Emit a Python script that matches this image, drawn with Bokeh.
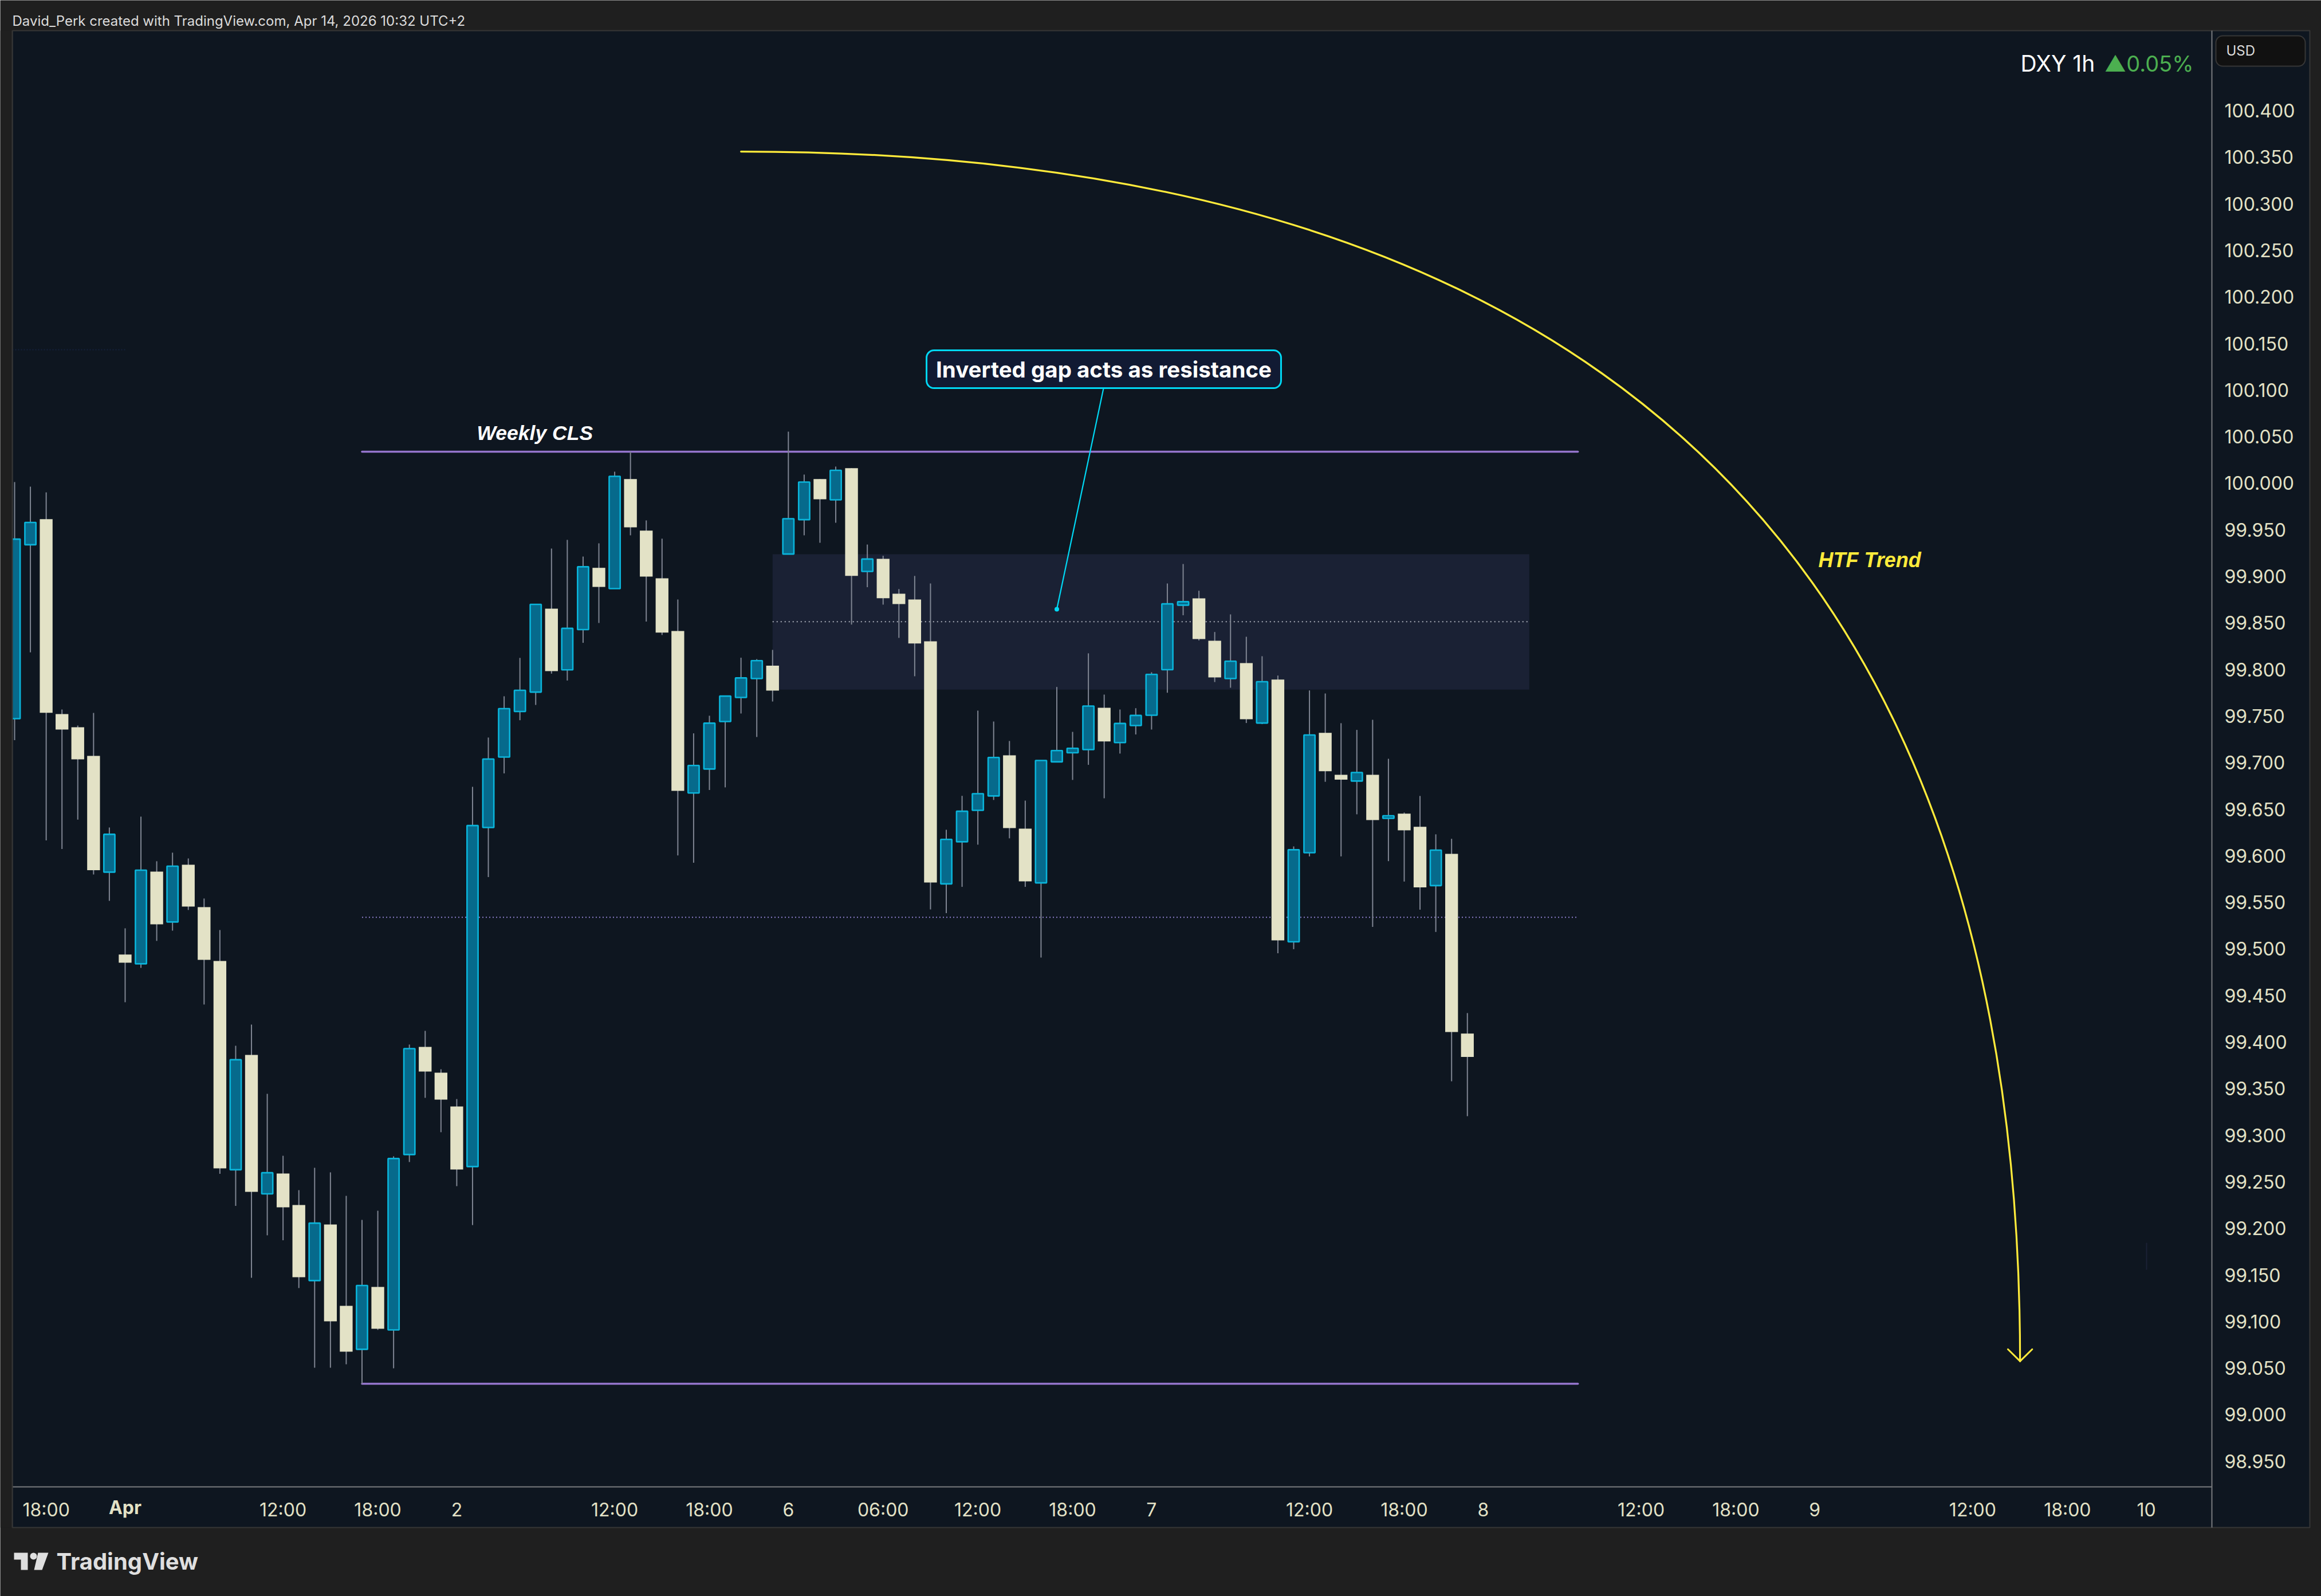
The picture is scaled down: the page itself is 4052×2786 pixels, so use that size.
from bokeh.plotting import figure
from bokeh.models import (ColumnDataSource, Range1d, FixedTicker, NumeralTickFormatter,
                          BoxAnnotation, Label, PolyAnnotation)
from bokeh.embed import file_html
from bokeh.resources import INLINE

# ---- candle data (prices), bar index = position in the list
highs = [100.0012,99.9963,99.9901,99.7570,99.7398,99.7533,99.6303,99.5221,99.6420,99.5941,99.6033,99.5971,99.5541,99.5203,99.3960,99.4188,
99.3444,99.2779,99.2410,99.2650,99.2601,99.2349,99.2091,99.2189,99.2773,99.3973,99.4120,99.3708,99.3388,99.6740,99.7269,99.7712,
99.8124,99.8702,99.9298,99.9391,99.9212,99.9354,100.0123,100.0338,99.9600,99.9404,99.8751,99.7314,99.7503,99.7714,99.8126,99.8111,
99.8210,100.0553,100.0092,100.0044,100.0178,100.0161,99.9341,99.9220,99.8863,99.9004,99.8923,99.6279,99.6643,99.7558,99.7441,99.7232,
99.6592,99.7023,99.7812,99.7330,99.8173,99.7730,99.7570,99.7584,99.7970,99.8923,99.9132,99.8845,99.8402,99.8591,99.8351,99.8142,
99.7935,99.6100,99.7774,99.7742,99.7423,99.7351,99.7460,99.7041,99.6464,99.6642,99.6230,99.6182,99.4311]
lows = [99.7241,99.8183,99.6165,99.6072,99.6387,99.5799,99.5516,99.4428,99.4797,99.5086,99.5196,99.5418,99.4403,99.2586,99.2241,99.1469,
99.1925,99.1872,99.1359,99.0504,99.0504,99.0541,99.0332,99.0910,99.0498,99.2712,99.3401,99.3032,99.2453,99.2035,99.5771,99.6884,
99.7455,99.7619,99.7955,99.7881,99.8286,99.8499,99.8868,99.9440,99.8514,99.8370,99.6004,99.5925,99.6706,99.6734,99.7527,99.7275,
99.7656,99.9239,99.9440,99.9360,99.9575,99.8482,99.8883,99.8696,99.8339,99.7927,99.5424,99.5384,99.5666,99.6119,99.6599,99.6187,
99.5666,99.4907,99.7008,99.6814,99.6976,99.6617,99.7097,99.7302,99.7355,99.7750,99.8582,99.8311,99.7865,99.7804,99.7425,99.7413,
99.4954,99.4997,99.5993,99.6794,99.5993,99.6445,99.5236,99.5942,99.5723,99.5421,99.5182,99.3579,99.3204]
body_tops = [99.9399,99.9578,99.9613,99.7521,99.7380,99.7072,99.6230,99.4939,99.5845,99.5830,99.5888,99.5904,99.5449,99.4870,99.3810,99.3862,
99.2597,99.2589,99.2251,99.2056,99.2041,99.1168,99.1386,99.1371,99.2749,99.3929,99.3948,99.3671,99.3308,99.6324,99.7038,99.7579,
99.7776,99.8699,99.8653,99.8441,99.9102,99.9091,100.0073,100.0044,99.9490,99.8979,99.8413,99.6969,99.7423,99.7714,99.7909,99.8094,
99.8040,99.9618,100.0012,100.0044,100.0138,100.0161,99.9185,99.9188,99.8813,99.8751,99.8302,99.6176,99.6478,99.6666,99.7055,99.7078,
99.6291,99.7023,99.7129,99.7153,99.7607,99.7589,99.7420,99.7506,99.7947,99.8704,99.8727,99.8763,99.8308,99.8088,99.8068,99.7868,
99.7892,99.6064,99.7296,99.7319,99.6869,99.6894,99.6869,99.6429,99.6452,99.6311,99.6060,99.6021,99.4091]
body_bots = [99.7472,99.9339,99.7535,99.7355,99.7035,99.5845,99.5824,99.4852,99.4840,99.5264,99.5289,99.5455,99.4883,99.2644,99.2629,99.2392,
99.2370,99.2226,99.1476,99.1439,99.1002,99.0676,99.0701,99.0922,99.0910,99.2792,99.3683,99.3382,99.2632,99.2663,99.6303,99.7060,
99.7549,99.7757,99.7982,99.7996,99.8428,99.8886,99.8868,99.9526,99.8997,99.8396,99.6697,99.6674,99.6931,99.7441,99.7699,99.7902,
99.7773,99.9239,99.9608,99.9827,99.9821,99.9004,99.9052,99.8765,99.8702,99.8279,99.5713,99.5698,99.6150,99.6488,99.6642,99.6297,
99.5725,99.5709,99.7008,99.7106,99.7140,99.7228,99.7215,99.7398,99.7509,99.7998,99.8690,99.8327,99.7915,99.7902,99.7466,99.7425,
99.5092,99.5076,99.6033,99.6907,99.6817,99.6802,99.6383,99.6402,99.6273,99.5660,99.5680,99.4108,99.3840]
up_candle = [1,1,0,0,0,0,1,0,1,0,1,0,0,0,1,0,
1,0,0,1,0,0,1,0,1,1,0,0,0,1,1,1,
1,1,0,1,1,0,1,0,0,0,0,1,1,1,1,1,
0,1,1,0,1,0,1,0,0,0,0,1,1,1,1,0,
0,1,1,1,1,0,1,1,1,1,1,0,0,1,0,1,
0,1,1,0,0,1,0,1,0,0,1,0,0]

# ---- axis labels
price_ticks = [98.95,99.0,99.05,99.1,99.15,99.2,99.25,99.3,99.35,99.4,99.45,99.5,99.55,99.6,99.65,99.7,99.75,
               99.8,99.85,99.9,99.95,100.0,100.05,100.1,100.15,100.2,100.25,100.3,100.35,100.4]
time_ticks  = [2,17,23,28,38,44,49,55,61,67,72,82,88,93,103,109,114,124,130,135]
time_labels = ["18:00","12:00","18:00","2","12:00","18:00","6","06:00","12:00","18:00","7","12:00","18:00","8",
               "12:00","18:00","9","12:00","18:00","10"]
month_tick = 7
month_label = "Apr"

# ---- drawing levels (prices) and their bar-index spans
weekly_high = 100.0338
weekly_low = 99.0331
weekly_mid = 99.5339
weekly_span = (22, 99)
gap_top = 99.9237
gap_bot = 99.7784
gap_mid = 99.8513
gap_span = (48, 95.92)
note_text = "Inverted gap acts as resistance"
note_anchor = (66, 99.8646)
note_root = (68.96, 100.102)
note_box = (57.75, 80.2, 100.1426, 100.102)
curve_start = (46, 100.356)
curve_ctrl = (127, 100.356)
curve_end = (127, 99.0574)
arrow_left = (126.23, 99.0702)
arrow_right = (127.77, 99.0702)

# ---- page geometry: pixel -> data helpers for the frame around the chart
DX, X0 = 27.568, 25.0
K, Y0, P0 = 1626.0, 192.5, 100.4
def sx(px): return (px - X0) / DX
def sy(py): return P0 - (py - Y0) / K

BG, FRAME, CREAM = "#0e1620", "#1f1f1f", "#e3e2c6"
BLUE_FILL, BLUE_LINE, WICK = "#066a8c", "#0ab4da", "#7f8592"
PURPLE, YELLOW, CYAN = "#9575cd", "#ffeb3b", "#00d9f5"
BORDER = "#363636"

W, H = 4052, 2786
p = figure(width=W, height=H, output_backend="svg", toolbar_location=None,
           x_range=Range1d(sx(0), sx(W)), y_range=Range1d(sy(H), sy(0)),
           y_axis_location="right", x_axis_location="below",
           min_border=0, background_fill_color=FRAME, border_fill_color=FRAME, outline_line_color=None)
p.grid.visible = False

# chart pane
p.add_layout(BoxAnnotation(left=sx(21), right=sx(4032), top=sy(53), bottom=sy(2666),
                           fill_color=BG, fill_alpha=1, line_color=BORDER, line_alpha=1, line_width=2, level="underlay"))

# axes sit on fixed positions inside the pane
for ax, ticker in ((p.yaxis[0], FixedTicker(ticks=price_ticks)), (p.xaxis[0], FixedTicker(ticks=time_ticks))):
    ax.ticker = ticker
    ax.major_tick_line_color = None
    ax.minor_tick_line_color = None
    ax.axis_line_color = None
    ax.major_label_text_color = CREAM
    ax.major_label_text_font = "Inter"
    ax.major_label_text_font_size = "32px"
p.yaxis[0].fixed_location = sx(3861)
p.xaxis[0].fixed_location = sy(2595)
p.yaxis[0].formatter = NumeralTickFormatter(format="0.000")
p.yaxis[0].major_label_standoff = 16
p.xaxis[0].major_label_overrides = {t: l for t, l in zip(time_ticks, time_labels)}
p.xaxis[0].major_label_standoff = 14
p.segment(x0=[sx(3861), sx(21)], x1=[sx(3861), sx(3861)], y0=[sy(53), sy(2595)], y1=[sy(2666), sy(2595)],
          line_color="#787b7e", line_width=2)

# gap zone and levels
p.quad(left=[gap_span[0]], right=[gap_span[1]], top=[gap_top], bottom=[gap_bot], fill_color="#1a2134", line_color=None)
p.segment(x0=[gap_span[0]], x1=[gap_span[1]], y0=[gap_mid], y1=[gap_mid], line_color="#a9adb8", line_width=2, line_dash="2 5")
p.segment(x0=[weekly_span[0]], x1=[weekly_span[1]], y0=[weekly_mid], y1=[weekly_mid], line_color="#8a7cc8", line_width=2, line_dash="2 4")
p.segment(x0=[weekly_span[0]]*2, x1=[weekly_span[1]]*2, y0=[weekly_high, weekly_low], y1=[weekly_high, weekly_low],
          line_color=PURPLE, line_width=3.5, line_cap="round")

# candles
idx = list(range(len(highs)))
src_w = ColumnDataSource(dict(x=idx, h=highs, l=lows))
p.segment(x0="x", x1="x", y0="l", y1="h", source=src_w, line_color=WICK, line_width=2)
ups = [i for i in idx if up_candle[i]]
downs = [i for i in idx if not up_candle[i]]
p.vbar(x=ups, width=0.70, top=[body_tops[i] for i in ups], bottom=[body_bots[i] for i in ups],
       fill_color=BLUE_FILL, line_color=BLUE_LINE, line_width=2.6)
p.vbar(x=downs, width=0.81, top=[body_tops[i] for i in downs], bottom=[body_bots[i] for i in downs],
       fill_color=CREAM, line_color=None)

# curve with arrow head
p.quadratic(x0=[curve_start[0]], y0=[curve_start[1]], cx=[curve_ctrl[0]], cy=[curve_ctrl[1]],
            x1=[curve_end[0]], y1=[curve_end[1]], line_color=YELLOW, line_width=3.2, line_cap="round")
p.segment(x0=[arrow_left[0], arrow_right[0]], y0=[arrow_left[1], arrow_right[1]],
          x1=[curve_end[0]]*2, y1=[curve_end[1]]*2, line_color=YELLOW, line_width=3, line_cap="round")

# note with leader line
p.segment(x0=[note_root[0]], y0=[note_root[1]], x1=[note_anchor[0]], y1=[note_anchor[1]], line_color=CYAN, line_width=2.2)
p.scatter(x=[note_anchor[0]], y=[note_anchor[1]], size=8, fill_color=CYAN, line_color=None)
p.add_layout(BoxAnnotation(left=note_box[0], right=note_box[1], top=note_box[2], bottom=note_box[3],
                           fill_color="#111a33", fill_alpha=1, line_color=CYAN, line_alpha=1, line_width=3, border_radius=13))

# faint remnants
p.segment(x0=[sx(21)], x1=[sx(220)], y0=[sy(610)], y1=[sy(610)], line_color="#14203c", line_width=2, line_dash="2 3")
p.segment(x0=[sx(3747)], x1=[sx(3747)], y0=[sy(2169)], y1=[sy(2216)], line_color="#1b2135", line_width=2)

# left strip hides the part of the first candle that falls outside the pane
p.add_layout(BoxAnnotation(left=sx(0), right=sx(21), top=sy(53), bottom=sy(2666), fill_color=FRAME, fill_alpha=1,
                           line_alpha=0, level="annotation"))
p.segment(x0=[sx(21)], x1=[sx(21)], y0=[sy(53)], y1=[sy(2666)], line_color=BORDER, line_width=2, level="overlay")

def text(x, y, s, size, color, font="Inter", style="normal", align="left"):
    p.add_layout(Label(x=sx(x), y=sy(y), text=s, text_font=font, text_font_size=size, text_color=color,
                       text_font_style=style, text_align=align, text_baseline="middle"))

text((note_box[0]*DX+X0 + note_box[1]*DX+X0)/2, 644, note_text, "38.5px", "#ffffff", style="bold", align="center")
text(832, 755, "Weekly CLS", "35.5px", "#ffffff", font="Liberation Sans", style="bold italic")
text(3174, 977, "HTF Trend", "36px", YELLOW, font="Liberation Sans", style="bold italic")
text(3527, 110, "DXY 1h", "39px", "#ffffff")
text(3830, 110, "\u25b20.05%", "38px", "#4caf50", align="right")
text(21, 36, "David_Perk created with TradingView.com, Apr 14, 2026 10:32 UTC+2", "24px", "#dcdcdc")
text(month_tick*DX+X0, 2631, month_label, "32px", CREAM, style="bold", align="center")

# USD button
p.add_layout(BoxAnnotation(left=sx(3868), right=sx(4024), top=sy(62), bottom=sy(115), fill_color="#111111", fill_alpha=1,
                           line_color=BORDER, line_alpha=1, line_width=2, border_radius=12))
text(3886, 88, "USD", "24px", "#dcdcdc")

# logo
LOGO = "#dfdfdf"
p.add_layout(PolyAnnotation(xs=[sx(v) for v in (24, 48, 48, 36, 36, 24)], ys=[sy(v) for v in (2710, 2710, 2740, 2740, 2722, 2722)],
                            fill_color=LOGO, fill_alpha=1, line_alpha=0))
p.add_layout(BoxAnnotation(left=sx(52), right=sx(64), top=sy(2710), bottom=sy(2722), fill_color=LOGO, fill_alpha=1,
                           line_alpha=0, border_radius=6))
p.add_layout(PolyAnnotation(xs=[sx(v) for v in (66, 84, 73, 59)], ys=[sy(v) for v in (2710, 2710, 2740, 2740)],
                            fill_color=LOGO, fill_alpha=1, line_alpha=0))
text(98, 2725, "TradingView", "40px", LOGO, style="bold")

open("out.html", "w").write(file_html(p, INLINE))
